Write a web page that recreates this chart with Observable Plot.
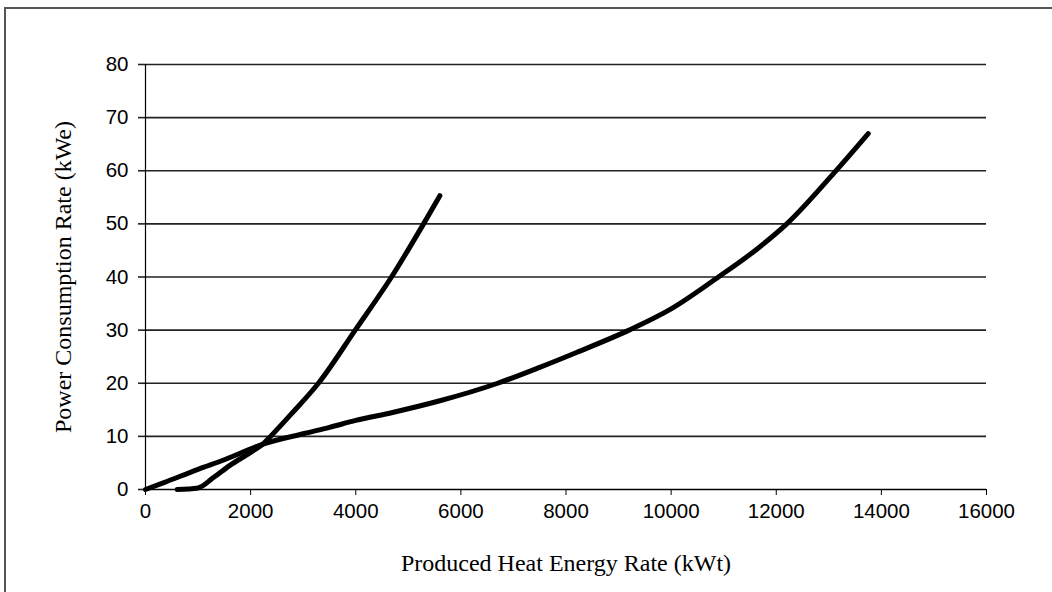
<!DOCTYPE html>
<html>
<head>
<meta charset="utf-8">
<script src="https://cdn.jsdelivr.net/npm/d3@7"></script>
<script src="https://cdn.jsdelivr.net/npm/@observablehq/plot@0.6"></script>
<style>
  html, body { margin: 0; padding: 0; background: #fff; overflow: hidden; }
  #wrap { position: relative; width: 1052px; height: 592px; overflow: hidden; }
  #frame { position: absolute; left: 4px; top: 7px; width: 1100px; height: 700px; border: 2px solid #555; box-sizing: border-box; pointer-events: none; }
  #chart { position: absolute; left: 0; top: 0; }
</style>
</head>
<body>
<div id="wrap"><div id="frame"></div><div id="chart"></div></div>
<script>
// Series A (steeper curve)
const seriesA_x = [600, 1000, 1300, 1600, 2000, 2250, 2380, 2800, 3290, 3990, 4680, 5290, 5600];
const seriesA_y = [0, 0.3, 2.3, 4.5, 7, 8.7, 10, 14.5, 20, 30, 40, 50, 55.3];
// Series B (flatter, longer curve)
const seriesB_x = [0, 350, 1000, 1500, 2250, 3000, 3500, 4000, 4700, 5600, 6700, 7500, 8200, 9200, 10000, 10900, 11600, 12200, 13100, 13750];
const seriesB_y = [0, 1.3, 3.8, 5.6, 8.6, 10.5, 11.7, 13, 14.5, 16.7, 20, 23, 25.8, 30, 34, 40, 45, 50, 59.6, 67];

const xTicks = [0, 2000, 4000, 6000, 8000, 10000, 12000, 14000, 16000];
const yTicks = [0, 10, 20, 30, 40, 50, 60, 70, 80];
const xTitle = "Produced Heat Energy Rate (kWt)";
const yTitle = "Power Consumption Rate (kWe)";

const dataA = seriesA_x.map((x, i) => ({x, y: seriesA_y[i], s: "A"}));
const dataB = seriesB_x.map((x, i) => ({x, y: seriesB_y[i], s: "B"}));

const chart = Plot.plot({
  width: 1052,
  height: 592,
  marginLeft: 145,
  marginRight: 66,
  marginTop: 64,
  marginBottom: 103,
  style: {background: "transparent", color: "#000"},
  x: {domain: [0, 16000]},
  y: {domain: [0, 80]},
  marks: [
    Plot.ruleY(yTicks.filter(d => d > 0), {stroke: "#222", strokeWidth: 1.6}),
    Plot.axisY({ticks: yTicks, tickSize: 7, tickPadding: 10, fontSize: 20.5, fontFamily: "Liberation Sans, Arial, sans-serif", label: null, stroke: "#222", strokeWidth: 1.6}),
    Plot.axisX({ticks: xTicks, tickSize: 6, tickPadding: 8, fontSize: 20.5, fontFamily: "Liberation Sans, Arial, sans-serif", label: null, tickFormat: d => String(d), stroke: "#000"}),
    Plot.ruleX([0], {stroke: "#000", strokeWidth: 1.2}),
    Plot.ruleY([0], {stroke: "#000", strokeWidth: 1.5}),
    Plot.line(dataA, {x: "x", y: "y", stroke: "#000", strokeWidth: 5, curve: "monotone-x"}),
    Plot.line(dataB, {x: "x", y: "y", stroke: "#000", strokeWidth: 5, curve: "monotone-x"}),
    Plot.text([xTitle], {frameAnchor: "bottom", dy: 74, lineAnchor: "middle", fontSize: 24, fontFamily: "Liberation Serif, Times New Roman, serif", fill: "#000"}),
    Plot.text([yTitle], {frameAnchor: "left", dx: -82, rotate: -90, textAnchor: "middle", lineAnchor: "middle", fontSize: 24, fontFamily: "Liberation Serif, Times New Roman, serif", fill: "#000"})
  ]
});
document.getElementById("chart").appendChild(chart);
</script>
</body>
</html>
